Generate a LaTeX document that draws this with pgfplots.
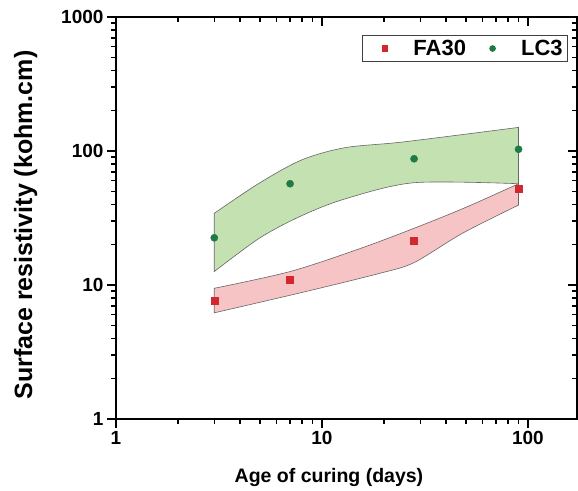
\documentclass[border=0pt]{standalone}
\usepackage{fontspec}
\setmainfont{Liberation Sans}
\usepackage{pgfplots}
\pgfplotsset{compat=1.18}
\usepgfplotslibrary{fillbetween}

\definecolor{fared}{HTML}{D3272E}
\definecolor{lcgreen}{HTML}{1E7B47}
\definecolor{redfill}{HTML}{F7C4C6}
\definecolor{greenfill}{HTML}{C4E1B2}
\definecolor{bandline}{HTML}{666666}

\begin{document}
\begin{tikzpicture}
\begin{axis}[
  at={(0,0)}, anchor=south west,
  scale only axis, width=461bp, height=402bp,
  xmode=log, ymode=log,
  xmin=1, xmax=173, ymin=1, ymax=1000,
  axis line style={line width=2bp},
  xtick={1,10,100}, ytick={1,10,100,1000},
  minor xtick={2,3,4,5,6,7,8,9,20,30,40,50,60,70,80,90},
  minor ytick={2,3,4,5,6,7,8,9,20,30,40,50,60,70,80,90,200,300,400,500,600,700,800,900},
  major tick length=9bp, minor tick length=5bp,
  every tick/.style={line width=1.5bp, black},
  ticklabel style={font=\fontsize{19bp}{22bp}\selectfont\bfseries},
  xtick pos=left, ytick pos=left, tick align=outside,
  xticklabels={1,10,100}, yticklabels={1,10,100,1000},
  xlabel={Age of curing (days)},
  ylabel={Surface resistivity (kohm.cm)},
  x label style={at={(axis description cs:0.462,-0.159)}, anchor=base,
    font=\fontsize{19.5bp}{23bp}\selectfont\bfseries},
  y label style={at={(axis description cs:-0.182,0.4826)}, anchor=base,
    font=\fontsize{25bp}{29bp}\selectfont\bfseries},
  legend columns=2,
  legend style={at={(rel axis cs:0.5336,0.955)}, anchor=north west,
    draw=black!75, line width=1bp, inner xsep=3bp, inner ysep=2.5bp,
    nodes={inner xsep=2bp},
    font=\fontsize{22bp}{26bp}\selectfont\bfseries,
    /tikz/every even column/.append style={column sep=5bp}},
  legend image code/.code={\path (0bp,0bp) (45bp,0bp); \draw[#1, mark size=2.8bp] plot coordinates {(19bp,0bp)};},
]
% LC3 band
\addplot[name path=gu, draw=none, smooth, forget plot] coordinates {
  (3,34.3) (5,58) (8,86) (13,106) (25,117) (90,150)};
\addplot[name path=gl, draw=none, smooth, forget plot] coordinates {
  (3,12.6) (5,22.5) (8,33) (13,44) (28,58) (90,57)};
\addplot[fill=greenfill, draw=bandline, line width=0.6bp, forget plot] fill between[of=gu and gl];
% FA30 band
\addplot[name path=ru, draw=none, smooth, forget plot] coordinates {
  (3,9.45) (7,12.6) (15,18.5) (28,26.5) (50,38) (90,57)};
\addplot[name path=rl, draw=none, smooth, forget plot] coordinates {
  (3,6.2) (8,8.8) (19,12.2) (28,14.7) (48,24.3) (90,39.5)};
\addplot[fill=redfill, draw=bandline, line width=0.6bp, forget plot] fill between[of=ru and rl];
% points
\addplot[only marks, mark=square*, mark size=3.5bp, color=fared] coordinates {
  (3,7.6) (7,11.0) (28,21.3) (90,52.6)};
\addlegendentry{FA30}
\addplot[only marks, mark=*, mark size=3.6bp, color=lcgreen] coordinates {
  (3,22.5) (7,57) (28,87.5) (90,103)};
\addlegendentry{LC3}
\end{axis}
\begin{axis}[
  at={(0,0)}, anchor=south west,
  scale only axis, width=461bp, height=402bp,
  xmode=log, ymode=log,
  xmin=1, xmax=173, ymin=1, ymax=1000,
  axis line style={line width=2bp},
  xtick={1,10,100}, ytick={1,10,100,1000},
  minor xtick={2,3,4,5,6,7,8,9,20,30,40,50,60,70,80,90},
  minor ytick={2,3,4,5,6,7,8,9,20,30,40,50,60,70,80,90,200,300,400,500,600,700,800,900},
  major tick length=9bp, minor tick length=5bp,
  every tick/.style={line width=1.5bp, black},
  xtick pos=right, ytick pos=right, tick align=inside,
  xticklabels={}, yticklabels={}]
\end{axis}
\pgfresetboundingbox
\useasboundingbox (-116bp,-72bp) rectangle (462bp,419bp);
\end{tikzpicture}
\end{document}
